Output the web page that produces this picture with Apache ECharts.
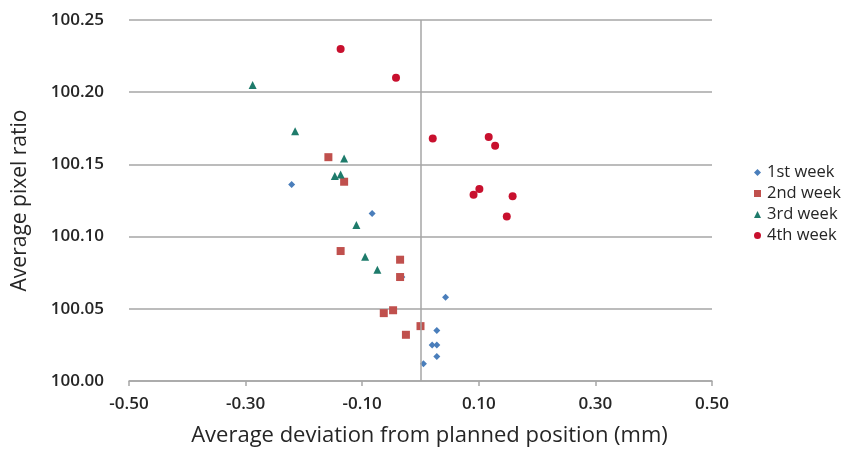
<!DOCTYPE html>
<html><head><meta charset="utf-8">
<script src="https://cdn.jsdelivr.net/npm/echarts@6/dist/echarts.min.js"></script>
<style>html,body{margin:0;padding:0;background:#fff}#c{width:844px;height:452px}</style>
</head><body><div id="c"></div>
<script>
const seriesNames = ['1st week', '2nd week', '3rd week', '4th week'];
const week1 = [[-0.221,100.136],[-0.083,100.116],[0.043,100.058],[0.028,100.035],[0.020,100.025],[0.028,100.025],[0.028,100.017],[0.005,100.012],[-0.032,100.072]];
const week2 = [[-0.158,100.155],[-0.131,100.138],[-0.137,100.090],[-0.035,100.084],[-0.035,100.072],[-0.063,100.047],[-0.047,100.049],[-0.025,100.032],[0.000,100.038]];
const week3 = [[-0.288,100.205],[-0.215,100.173],[-0.131,100.154],[-0.147,100.142],[-0.137,100.143],[-0.110,100.108],[-0.095,100.086],[-0.074,100.077]];
const week4 = [[-0.137,100.230],[-0.042,100.210],[0.021,100.168],[0.117,100.169],[0.128,100.163],[0.091,100.129],[0.101,100.133],[0.158,100.128],[0.148,100.114]];
const xTicks = [-0.5,-0.3,-0.1,0.1,0.3,0.5];
const yTicks = [100.00,100.05,100.10,100.15,100.20,100.25];

const colors = ['#4A7EBB','#C0504D','#1E7B6B','#C8102E'];
const symbols = ['diamond','rect','triangle','circle'];
const sizes = [7,8,8,8];
const allData = [week1, week2, week3, week4];
const font = '"Open Sans", sans-serif';

const chart = echarts.init(document.getElementById('c'));
const series = seriesNames.map((n,i)=>({
  name:n, type:'scatter', data:allData[i], symbol:symbols[i], symbolSize:sizes[i],
  itemStyle:{color:colors[i], opacity:1}, z: 3+i,
  markLine: i===0 ? {silent:true, symbol:'none', label:{show:false},
    lineStyle:{color:'#a6a6a6', type:'solid', width:1.5}, data:[{xAxis:0}]} : undefined
}));
chart.setOption({
  animation:false,
  color: colors,
  grid:{left:129, right:132, top:20, bottom:70},
  legend:{
    orient:'vertical', left:749, top:159, itemGap:4, itemWidth:7, itemHeight:7,
    textStyle:{fontFamily:font, fontSize:16.5, lineHeight:17, color:'#262626', padding:[0,0,0,1]},
    data: seriesNames.map((n,i)=>({name:n, icon: symbols[i]}))
  },
  xAxis:{
    type:'value', min:xTicks[0], max:xTicks[xTicks.length-1], interval:0.2,
    name:'Average deviation from planned position (mm)', nameLocation:'middle', nameGap:44,
    nameTextStyle:{fontFamily:font, fontSize:22, color:'#262626', padding:[0,0,0,18]},
    axisLine:{show:true, onZero:false, lineStyle:{color:'#a6a6a6', width:1.5}},
    axisTick:{show:true, length:5, lineStyle:{color:'#a6a6a6', width:1.5}},
    splitLine:{show:false},
    axisLabel:{fontFamily:font, fontSize:17, fontWeight:600, color:'#262626', margin:15,
      formatter:v=>Number(v).toFixed(2)}
  },
  yAxis:{
    type:'value', min:yTicks[0], max:yTicks[yTicks.length-1], interval:0.05,
    name:'Average pixel ratio', nameLocation:'middle', nameGap:98,
    nameTextStyle:{fontFamily:font, fontSize:21, color:'#262626'},
    axisLine:{show:false}, axisTick:{show:false},
    splitLine:{show:true, lineStyle:{color:'#a6a6a6', width:1.5}},
    axisLabel:{fontFamily:font, fontSize:17, fontWeight:600, color:'#262626', margin:25,
      formatter:v=>Number(v).toFixed(2)}
  },
  series: series
});
</script></body></html>
